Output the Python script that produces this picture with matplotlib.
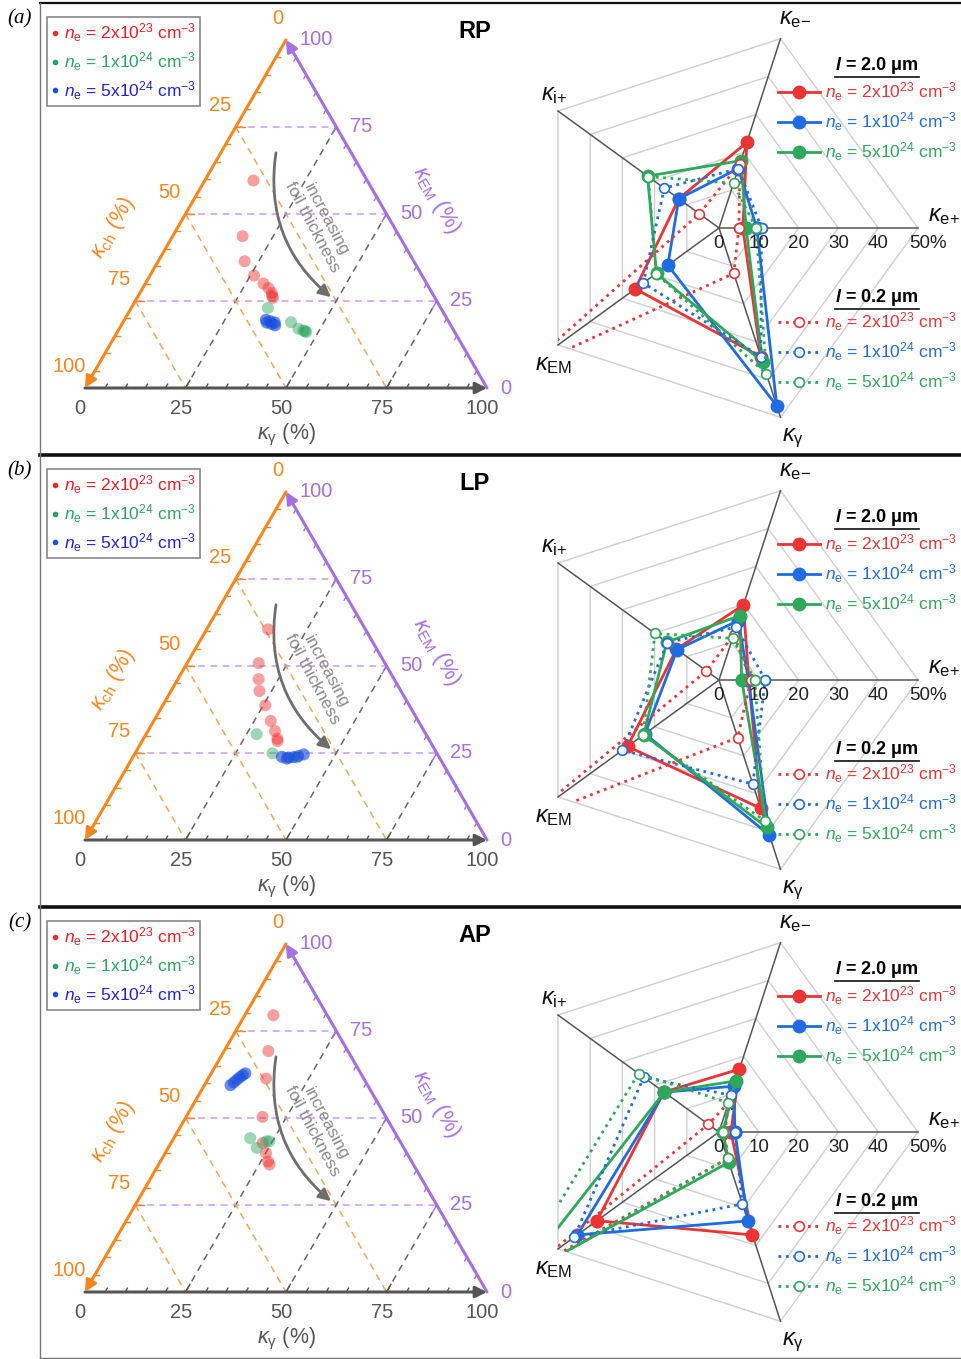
import numpy as np
import matplotlib
matplotlib.use('Agg')
from matplotlib import pyplot as plt
from matplotlib.lines import Line2D
from matplotlib.patches import Polygon

plt.rcParams['font.family'] = ['Liberation Sans', 'DejaVu Sans']
plt.rcParams['mathtext.fontset'] = 'custom'
plt.rcParams['mathtext.rm'] = 'Liberation Sans'
plt.rcParams['mathtext.it'] = 'Liberation Sans:italic'
plt.rcParams['mathtext.bf'] = 'Liberation Sans:bold'
plt.rcParams['mathtext.bfit'] = 'Liberation Sans:italic:bold'

panel_tags = ['(a)', '(b)', '(c)']
pulse_names = ['RP', 'LP', 'AP']

# ternary data: kappa_gamma and kappa_EM in % (kappa_ch = 100 - both)
rp_red_g = [12.1, 17.4, 21.5, 25.9, 29.4, 31.3, 32.8, 33.8, 33.3]
rp_red_em = [59.6, 43.6, 36.4, 32.3, 30.0, 28.7, 27.3, 25.9, 26.5]
rp_green_g = [34.0, 41.8, 44.6, 46.1, 47.0, 46.6]
rp_green_em = [23.0, 18.9, 17.0, 16.5, 16.1, 16.3]
rp_blue_g = [35.2, 35.8, 36.5, 37.2, 37.8, 38.3]
rp_blue_em = [19.6, 18.8, 19.2, 18.4, 18.8, 18.0]

lp_red_g = [15.3, 17.8, 20.1, 22.0, 25.5, 29.1, 31.6, 33.3, 33.7]
lp_red_em = [60.5, 50.8, 46.2, 42.8, 38.7, 34.2, 31.3, 29.1, 28.4]
lp_green_g = [27.5, 34.2, 40.8]
lp_green_em = [30.4, 24.9, 23.7]
lp_blue_g = [37.0, 38.5, 38.8, 40.0, 41.0, 42.1]
lp_blue_em = [23.9, 23.4, 23.7, 23.8, 24.1, 24.6]

ap_red_g = [7.1, 11.0, 14.4, 19.0, 22.8, 25.1, 26.8, 27.6]
ap_red_em = [79.5, 69.2, 61.3, 50.3, 42.8, 39.9, 37.5, 36.6]
ap_green_g = [19.0, 22.0, 23.5, 24.2]
ap_green_em = [44.2, 41.4, 43.3, 43.3]
ap_blue_g = [6.5, 6.9, 7.3, 7.7, 8.1, 8.5]
ap_blue_em = [59.4, 60.2, 61.0, 61.7, 62.3, 62.8]

tern_g = [[rp_red_g, rp_green_g, rp_blue_g], [lp_red_g, lp_green_g, lp_blue_g],
          [ap_red_g, ap_green_g, ap_blue_g]]
tern_em = [[rp_red_em, rp_green_em, rp_blue_em], [lp_red_em, lp_green_em, lp_blue_em],
           [ap_red_em, ap_green_em, ap_blue_em]]

# radar data, % per axis in order: e+, e-, i+, EM, gamma
radar_axes = [r'$\kappa_\mathregular{e{+}}$', r'$\kappa_\mathregular{e{-}}$',
              r'$\kappa_\mathregular{i{+}}$', r'$\kappa_\mathregular{EM}$',
              r'$\kappa_\mathregular{\gamma}$']
rp_thick_red = [6.0, 22.6, 12.5, 26.0, 34.0]
rp_thick_blue = [9.5, 15.7, 12.5, 15.9, 47.0]
rp_thick_green = [6.8, 17.8, 22.2, 19.4, 35.4]
rp_thin_red = [5.0, 17.0, 6.1, 60.0, 12.0]
rp_thin_blue = [10.7, 15.7, 17.0, 23.5, 34.0]
rp_thin_green = [9.3, 11.8, 22.0, 19.5, 38.6]

lp_thick_red = [7.5, 19.8, 13.2, 28.4, 33.9]
lp_thick_blue = [7.4, 15.7, 13.0, 23.0, 41.0]
lp_thick_green = [5.7, 17.0, 16.2, 23.4, 38.9]
lp_thin_red = [8.0, 12.0, 3.9, 60.0, 15.2]
lp_thin_blue = [11.6, 14.0, 16.0, 30.0, 27.5]
lp_thin_green = [9.0, 11.0, 19.9, 23.6, 37.2]

ap_thick_red = [3.0, 16.6, 17.1, 37.9, 27.2]
ap_thick_blue = [4.0, 12.1, 17.0, 44.0, 23.5]
ap_thick_green = [1.0, 13.5, 17.0, 62.0, 8.0]
ap_thin_red = [1.5, 7.8, 3.3, 60.0, 7.0]
ap_thin_blue = [4.0, 9.7, 23.4, 45.0, 19.0]
ap_thin_green = [1.1, 7.7, 25.0, 65.0, 7.0]

radar_thick = [[rp_thick_red, rp_thick_blue, rp_thick_green],
               [lp_thick_red, lp_thick_blue, lp_thick_green],
               [ap_thick_red, ap_thick_blue, ap_thick_green]]
radar_thin = [[rp_thin_red, rp_thin_blue, rp_thin_green],
              [lp_thin_red, lp_thin_blue, lp_thin_green],
              [ap_thin_red, ap_thin_blue, ap_thin_green]]
radar_ticks = [0, 10, 20, 30, 40, 50]

tern_labels = [r'$n_\mathregular{e}$ = 2x10$^{23}$ cm$^{-3}$',
               r'$n_\mathregular{e}$ = 1x10$^{24}$ cm$^{-3}$',
               r'$n_\mathregular{e}$ = 5x10$^{24}$ cm$^{-3}$']
radar_labels = [r'$n_\mathregular{e}$ = 2x10$^{23}$ cm$^{-3}$',
                r'$n_\mathregular{e}$ = 1x10$^{24}$ cm$^{-3}$',
                r'$n_\mathregular{e}$ = 5x10$^{24}$ cm$^{-3}$']

tern_colors = ['#ef2b2b', '#27a35c', '#1a4fe0']
tern_text_colors = ['#ee1c24', '#2aa55f', '#2222dd']
radar_colors = ['#ec3434', '#1f6ce2', '#2ea85a']
orange = '#f7861c'
purple = '#a66fe0'
grey = '#555555'

H = np.sqrt(3) / 2


def tern_xy(g, em):
    g = np.asarray(g, float)
    em = np.asarray(em, float)
    return g / 100 + em / 200, em / 100 * H


angles = np.deg2rad([0, 72, 144, 216, 288])


def radar_xy(vals):
    v = np.append(vals, vals[0])
    a = np.append(angles, angles[0])
    return v * np.cos(a), v * np.sin(a)


fig = plt.figure(figsize=(9.62, 13.59), dpi=100)
W, HH = 962.0, 1359.0
panel_top = [3, 455, 907]
panel_h = 451
title_texts = []

for p in range(3):
    top = panel_top[p]

    # ---------- ternary ----------
    ax = fig.add_axes([40 / W, 1 - (top + panel_h) / HH, 480 / W, panel_h / HH])
    ax.set_xlim(-45 / 402, 435 / 402)
    ax.set_ylim(-(panel_h - 385) / 402, 385 / 402)
    ax.axis('off')

    dash = dict(lw=1.1, dashes=(4.5, 3.5))
    for v in [25, 50, 75]:
        x, y = tern_xy([0, 100 - v], [v, v])
        ax.plot(x, y, color='#c79cf0', **dash)
        x, y = tern_xy([0, 100 - v], [100 - v, 0])
        ax.plot(x, y, color='#f5a64e', **dash)
        x, y = tern_xy([v, v], [0, 100 - v])
        ax.plot(x, y, color='#666666', **dash)

    # triangle sides with arrows
    arr = dict(arrowstyle='-|>', lw=2.2, mutation_scale=17, shrinkA=0, shrinkB=0)
    ax.annotate('', xy=(1, 0), xytext=(0, 0), arrowprops=dict(color=grey, **arr))
    ax.annotate('', xy=(0, 0), xytext=(0.5, H), arrowprops=dict(color=orange, **arr))
    ax.annotate('', xy=(0.5, H), xytext=(1, 0), arrowprops=dict(color=purple, **arr))

    # small ticks
    for v in range(5, 100, 5):
        ln = 0.022 if v % 25 == 0 else 0.011
        bx, by = v / 100, 0
        ax.plot([bx, bx + 0.5 * ln], [by, by + H * ln], color=grey, lw=1)
        lx, ly = 0.5 * (1 - v / 100), H * (1 - v / 100)
        ax.plot([lx, lx + ln], [ly, ly], color=orange, lw=1)
        rx, ry = 1 - v / 200, H * v / 100
        ax.plot([rx, rx - 0.5 * ln], [ry, ry - H * ln], color=purple, lw=1)

    for v in [0, 25, 50, 75, 100]:
        ax.text(v / 100 - 0.012, -0.05, str(v), color=grey, fontsize=14.5,
                ha='center', va='center')
        lx, ly = 0.5 * (1 - v / 100), H * (1 - v / 100)
        ax.text(lx - 0.04 + (0.02 if v == 0 else 0), ly + 0.053, str(v), color=orange,
                fontsize=14.5, ha='center', va='center')
        rx, ry = 1 - v / 200, H * v / 100
        ax.text(rx + 0.033, ry, str(v), color=purple, fontsize=14.5,
                ha='left', va='center')

    ax.text(0.5, -0.117, r'$\kappa_\mathregular{\gamma}$ (%)', color=grey, fontsize=15.5,
            ha='center', va='center')
    ax.text(0.07, 0.398, r'$\kappa_\mathregular{ch}$ (%)', color=orange, fontsize=15.5,
            ha='center', va='center', rotation=60)
    ax.text(0.873, 0.468, r'$\kappa_\mathregular{EM}$ (%)', color=purple, fontsize=15.5,
            ha='center', va='center', rotation=-60)
    ax.text(0.97, 0.886, pulse_names[p], fontsize=17, weight='bold', ha='center', va='center')

    ax.annotate('', xy=(0.612, 0.226), xytext=(0.475, 0.585),
                arrowprops=dict(arrowstyle='-|>', color='#6e6e6e', lw=2,
                                mutation_scale=18, shrinkA=0, shrinkB=0,
                                connectionstyle='arc3,rad=0.28'))
    ax.text(0.583, 0.41, 'increasing\nfoil thickness', color='#8a8a8a', fontsize=12.5,
            rotation=-62, ha='center', va='center', linespacing=1.0)

    handles = []
    for c, gs, es in zip(tern_colors, tern_g[p], tern_em[p]):
        x, y = tern_xy(gs, es)
        alpha = 0.65 if c == tern_colors[2] else 0.45
        ax.scatter(x, y, s=75, color=c, alpha=alpha, edgecolors='none', zorder=4)
        handles.append(Line2D([], [], ls='none', marker='o', ms=3, color=c))
    leg = ax.legend(handles, tern_labels, loc='upper left', bbox_to_anchor=(0.014, 0.968),
                    fontsize=12.5, handlelength=0.4, handletextpad=0.35, labelspacing=0.35,
                    borderpad=0.25, borderaxespad=0, fancybox=False, framealpha=1,
                    edgecolor='#888888')
    leg.get_frame().set_linewidth(1.2)
    for t, c in zip(leg.get_texts(), tern_text_colors):
        t.set_color(c)

    # ---------- radar ----------
    rx = fig.add_axes([520 / W, 1 - (top + panel_h) / HH, 442 / W, panel_h / HH])
    sc = 3.98
    rx.set_xlim(-199 / sc, 243 / sc)
    rx.set_ylim(-(panel_h - 225) / sc, 225 / sc)
    rx.axis('off')

    for r in [10, 20, 30, 40, 50]:
        x, y = radar_xy([r] * 5)
        rx.plot(x, y, color='#cfcfcf', lw=1, zorder=1)
    for a in angles:
        rx.plot([0, 50 * np.cos(a)], [0, 50 * np.sin(a)], color='#555555', lw=1.1, zorder=2)
    for r in radar_ticks:
        lab = '50%' if r == 50 else str(r)
        rx.text(r + (2.4 if r == 50 else 0), -3.9, lab, fontsize=13.5, color='#222222',
                ha='center', va='center', zorder=6)
    lab_pos = [(56.5, 3.0), (19.0, 52.5), (-41.5, 33.5), (-41.5, -34.5), (18.6, -52.8)]
    for lab, (lx, ly) in zip(radar_axes, lab_pos):
        rx.text(lx, ly, lab, fontsize=17, ha='center', va='center', color='#111111')

    ox, oy = radar_xy([50] * 5)
    clip = Polygon(np.column_stack([ox, oy]), closed=True, facecolor='none',
                   edgecolor='none', transform=rx.transData)
    rx.add_patch(clip)

    for vals, c in zip(radar_thick[p], radar_colors):
        x, y = radar_xy(vals)
        ln, = rx.plot(x, y, color=c, lw=2, marker='o', ms=9, zorder=3)
        ln.set_clip_path(clip)
    for vals, c in zip(radar_thin[p], radar_colors):
        x, y = radar_xy(vals)
        ln, = rx.plot(x, y, color=c, lw=2, ls=':', marker='o', ms=7,
                      markerfacecolor='white', markeredgewidth=1.2, zorder=4)
        ln.set_clip_path(clip)

    h1 = [Line2D([], [], color=c, lw=2, marker='o', ms=9) for c in radar_colors]
    h2 = [Line2D([], [], color=c, lw=2, ls=':', marker='o', ms=7, markerfacecolor='white',
                 markeredgewidth=1.2) for c in radar_colors]
    legkw = dict(loc='upper left', frameon=False, fontsize=12.5, handlelength=2.4,
                 handletextpad=0.3, labelspacing=0.42, borderpad=0, borderaxespad=0)
    l1 = rx.legend(h1, radar_labels, bbox_to_anchor=(0.584, 0.828), **legkw)
    for t, c in zip(l1.get_texts(), radar_colors):
        t.set_color(c)
    rx.add_artist(l1)
    l2 = rx.legend(h2, radar_labels, bbox_to_anchor=(0.584, 0.318), **legkw)
    for t, c in zip(l2.get_texts(), radar_colors):
        t.set_color(c)

    t1 = rx.text(0.808, 0.862, r'$\mathbfit{l}$ = 2.0 μm', fontsize=13, weight='bold',
                 ha='center', va='center', transform=rx.transAxes)
    t2 = rx.text(0.808, 0.348, r'$\mathbfit{l}$ = 0.2 μm', fontsize=13, weight='bold',
                 ha='center', va='center', transform=rx.transAxes)
    title_texts += [t1, t2]

    fig.text(20 / W, 1 - (top + 16) / HH, panel_tags[p], family='Liberation Serif',
             style='italic', fontsize=15, ha='center', va='center')

# frame lines
for y, lw in [(3, 1.6), (455, 2.6), (907, 2.6)]:
    fig.add_artist(Line2D([40 / W, 1], [1 - y / HH] * 2, color='#111111', lw=lw,
                          transform=fig.transFigure))
fig.add_artist(Line2D([40 / W] * 2, [0, 1 - 3 / HH], color='#777777', lw=1,
                      transform=fig.transFigure))
fig.add_artist(Line2D([40 / W, 1], [1 / HH] * 2, color='#777777', lw=1,
                      transform=fig.transFigure))

fig.canvas.draw()
for t in title_texts:
    bb = t.get_window_extent()
    yy = (bb.y0 - 1.5) / fig.bbox.height
    fig.add_artist(Line2D([bb.x0 / fig.bbox.width, bb.x1 / fig.bbox.width], [yy, yy],
                          color='#222222', lw=1.3, transform=fig.transFigure))

fig.savefig('out.png', dpi=100)
